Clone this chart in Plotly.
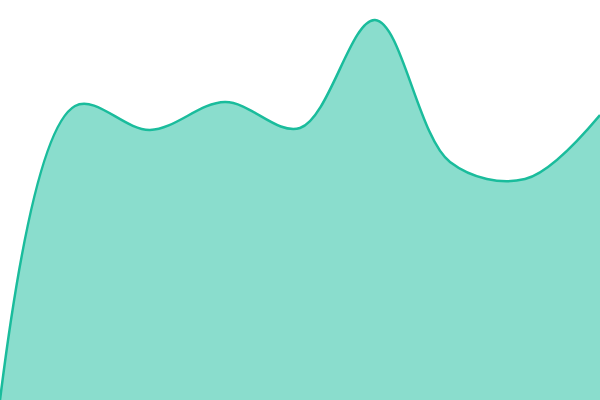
import plotly.graph_objects as go

# values, evenly spaced samples
x_vals = [0, 1, 2, 3, 4, 5, 6, 7, 8]
y_vals = [0, 294, 270, 298, 272, 380, 238, 221, 285]

fig = go.Figure()
fig.add_trace(
    go.Scatter(
        x=x_vals,
        y=y_vals,
        mode="lines",
        line=dict(color="#1abc9c", width=2.5, shape="spline", smoothing=1.0),
        fill="tozeroy",
        fillcolor="rgba(26,188,156,0.51)",
        hoverinfo="skip",
    )
)

fig.update_xaxes(visible=False, range=[0, 8])
fig.update_yaxes(visible=False, range=[0, 400])
fig.update_layout(
    width=600,
    height=400,
    margin=dict(l=0, r=0, t=0, b=0),
    paper_bgcolor="white",
    plot_bgcolor="white",
    showlegend=False,
)

fig.write_html(
    "out.html",
    config={"displayModeBar": False},
    post_script="document.body.style.margin='0';",
)
